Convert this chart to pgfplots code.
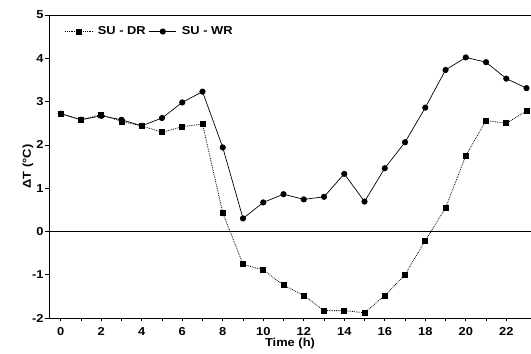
\documentclass[border=0pt]{standalone}
\usepackage{fontspec}
\setmainfont{Liberation Sans}[FakeStretch=1.12, UprightFont=*-Bold]
\usepackage{pgfplots}
\pgfplotsset{compat=1.18}
\begin{document}
\begin{tikzpicture}
\begin{axis}[
  name=ax,
  scale only axis,
  width=482pt, height=303pt,
  xmin=-0.58, xmax=23.22,
  ymin=-2, ymax=5,
  xtick={0,2,...,22},
  minor x tick num=1,
  ytick={-2,-1,...,5},
  xtick pos=bottom, ytick pos=left,
  tick align=outside,
  major tick length=3.5pt, minor tick length=3pt,
  tick style={black, line width=0.6pt},
  axis line style={line width=0.8pt},
  /pgf/number format/assume math mode=true,
  ticklabel style={font=\fontsize{11.5}{12}\selectfont},
  xticklabel style={yshift=-2.5pt},
  yticklabel style={xshift=1.5pt},
  xlabel={Time (h)},
  ylabel={ΔT (°C)},
  label style={font=\fontsize{11.5}{12}\selectfont},
  xlabel style={yshift=4pt},
  ylabel style={yshift=-8pt},
  clip=false,
  legend columns=2,
  legend style={draw=none, fill=none, at={(rel axis cs:0.026,0.975)}, anchor=north west,
    font=\fontsize{11.5}{12}\selectfont,
    /tikz/every odd column/.append style={column sep=3pt},
    /tikz/every even column/.append style={column sep=1pt}},
  legend image code/.code={
    \draw[mark repeat=2,mark phase=2,#1] plot coordinates {(0cm,0cm) (0.48cm,0cm) (0.96cm,0cm)};},
]
\addplot[black, line width=0.6pt, forget plot] coordinates {(-0.58,0) (23.22,0)};
\addplot[black, densely dotted, line width=0.8pt, mark=square*, mark size=2.5pt,
  mark options={solid}] coordinates {
(0,2.72) (1,2.58) (2,2.70) (3,2.54) (4,2.44) (5,2.29) (6,2.42) (7,2.48)
(8,0.43) (9,-0.76) (10,-0.89) (11,-1.24) (12,-1.48) (13,-1.83) (14,-1.83)
(15,-1.88) (16,-1.48) (17,-1.00) (18,-0.21) (19,0.54) (20,1.75) (21,2.56)
(22,2.50) (23,2.78)};
\addlegendentry{SU - DR}
\addplot[black, line width=0.7pt, mark=*, mark size=2.7pt] coordinates {
(0,2.72) (1,2.58) (2,2.67) (3,2.58) (4,2.44) (5,2.62) (6,2.98) (7,3.23)
(8,1.94) (9,0.30) (10,0.67) (11,0.86) (12,0.74) (13,0.80) (14,1.33)
(15,0.69) (16,1.46) (17,2.06) (18,2.86) (19,3.73) (20,4.02) (21,3.91)
(22,3.53) (23,3.31)};
\addlegendentry{SU - WR}
\end{axis}
\pgfresetboundingbox
\path ([xshift=-49pt,yshift=-36pt]ax.south west) rectangle ([yshift=15pt]ax.north east);
\end{tikzpicture}
\end{document}
